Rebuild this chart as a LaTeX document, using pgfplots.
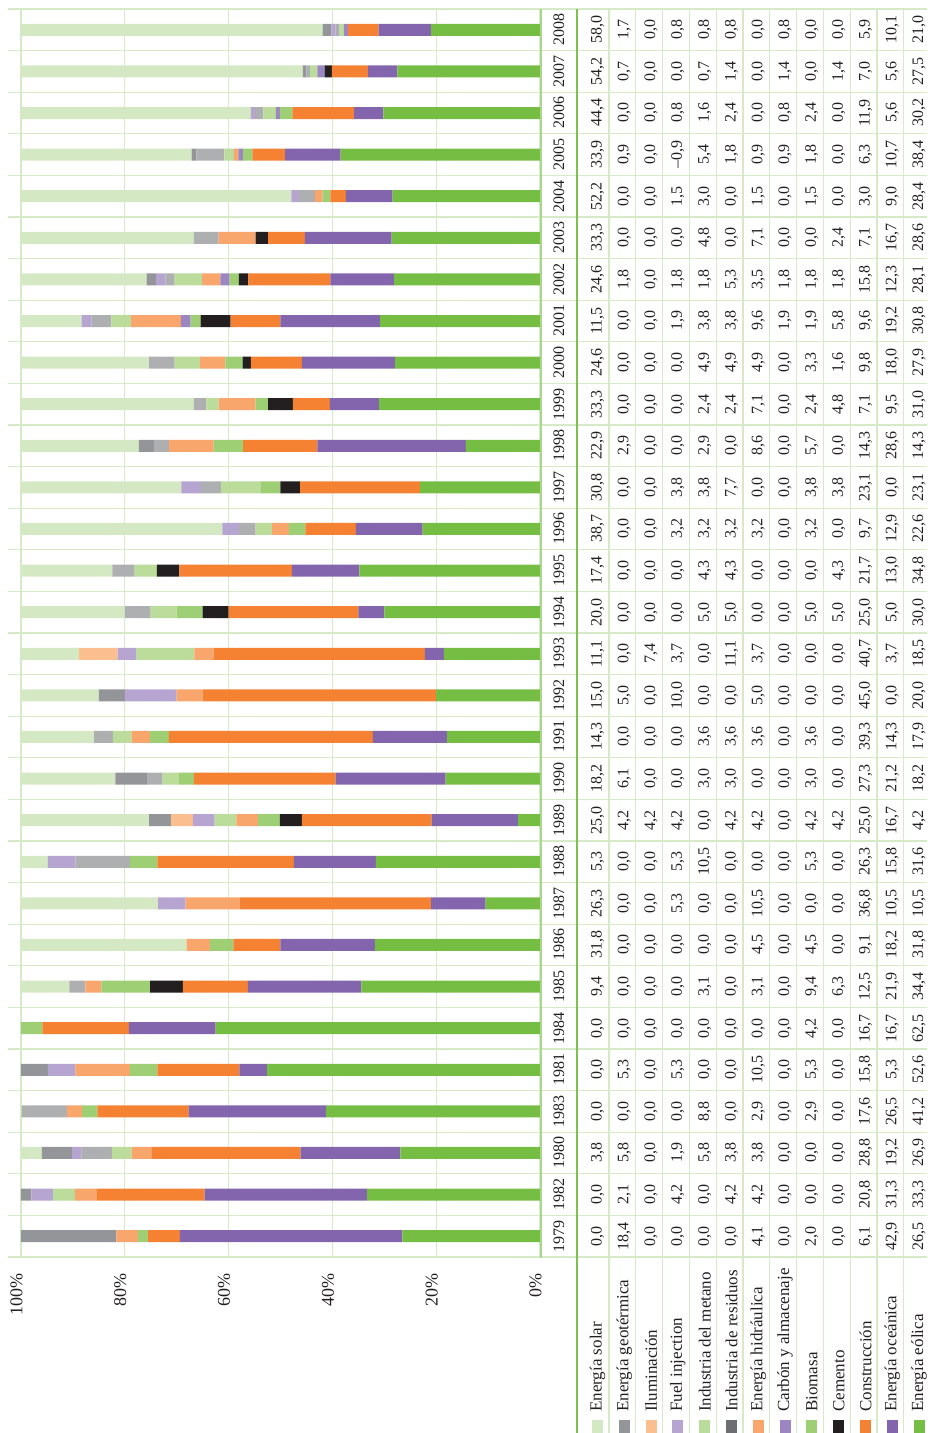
\documentclass[border=0pt]{standalone}
\usepackage{pgfplots}
\pgfplotsset{compat=1.18}
\usepackage{pgfplotstable}
\usepackage{fontspec}
\setmainfont{Liberation Serif}

% bar colours
\definecolor{cSolar}{HTML}{D5E8C4}
\definecolor{cGeot}{HTML}{939598}
\definecolor{cIlum}{HTML}{FBBE8E}
\definecolor{cFuel}{HTML}{B6A5D1}
\definecolor{cMeta}{HTML}{ADAFB1}
\definecolor{cResi}{HTML}{BCDC9C}
\definecolor{cHidr}{HTML}{F9A66C}
\definecolor{cCarb}{HTML}{9C86C1}
\definecolor{cBio}{HTML}{9FCF75}
\definecolor{cCem}{HTML}{231F20}
\definecolor{cCons}{HTML}{F58233}
\definecolor{cOcea}{HTML}{8365AD}
\definecolor{cEol}{HTML}{76BD43}
% legend colours
\definecolor{lMeta}{HTML}{BADC9B}
\definecolor{lResi}{HTML}{6D6E71}
% lines
\definecolor{gridc}{HTML}{D6EAC8}
\definecolor{lineZero}{HTML}{A8D68A}
\definecolor{lineTab}{HTML}{7CC24F}
\definecolor{txt}{HTML}{231F20}

\pgfplotstableread{
idx year solar geot ilum fuel meta resi hidr carb bio cem cons ocea eol
0 1979 0.0 18.4 0.0 0.0 0.0 0.0 4.1 0.0 2.0 0.0 6.1 42.9 26.5
1 1982 0.0 2.1 0.0 4.2 0.0 4.2 4.2 0.0 0.0 0.0 20.8 31.3 33.3
2 1980 3.8 5.8 0.0 1.9 5.8 3.8 3.8 0.0 0.0 0.0 28.8 19.2 26.9
3 1983 0.0 0.0 0.0 0.0 8.8 0.0 2.9 0.0 2.9 0.0 17.6 26.5 41.2
4 1981 0.0 5.3 0.0 5.3 0.0 0.0 10.5 0.0 5.3 0.0 15.8 5.3 52.6
5 1984 0.0 0.0 0.0 0.0 0.0 0.0 0.0 0.0 4.2 0.0 16.7 16.7 62.5
6 1985 9.4 0.0 0.0 0.0 3.1 0.0 3.1 0.0 9.4 6.3 12.5 21.9 34.4
7 1986 31.8 0.0 0.0 0.0 0.0 0.0 4.5 0.0 4.5 0.0 9.1 18.2 31.8
8 1987 26.3 0.0 0.0 5.3 0.0 0.0 10.5 0.0 0.0 0.0 36.8 10.5 10.5
9 1988 5.3 0.0 0.0 5.3 10.5 0.0 0.0 0.0 5.3 0.0 26.3 15.8 31.6
10 1989 25.0 4.2 4.2 4.2 0.0 4.2 4.2 0.0 4.2 4.2 25.0 16.7 4.2
11 1990 18.2 6.1 0.0 0.0 3.0 3.0 0.0 0.0 3.0 0.0 27.3 21.2 18.2
12 1991 14.3 0.0 0.0 0.0 3.6 3.6 3.6 0.0 3.6 0.0 39.3 14.3 17.9
13 1992 15.0 5.0 0.0 10.0 0.0 0.0 5.0 0.0 0.0 0.0 45.0 0.0 20.0
14 1993 11.1 0.0 7.4 3.7 0.0 11.1 3.7 0.0 0.0 0.0 40.7 3.7 18.5
15 1994 20.0 0.0 0.0 0.0 5.0 5.0 0.0 0.0 5.0 5.0 25.0 5.0 30.0
16 1995 17.4 0.0 0.0 0.0 4.3 4.3 0.0 0.0 0.0 4.3 21.7 13.0 34.8
17 1996 38.7 0.0 0.0 3.2 3.2 3.2 3.2 0.0 3.2 0.0 9.7 12.9 22.6
18 1997 30.8 0.0 0.0 3.8 3.8 7.7 0.0 0.0 3.8 3.8 23.1 0.0 23.1
19 1998 22.9 2.9 0.0 0.0 2.9 0.0 8.6 0.0 5.7 0.0 14.3 28.6 14.3
20 1999 33.3 0.0 0.0 0.0 2.4 2.4 7.1 0.0 2.4 4.8 7.1 9.5 31.0
21 2000 24.6 0.0 0.0 0.0 4.9 4.9 4.9 0.0 3.3 1.6 9.8 18.0 27.9
22 2001 11.5 0.0 0.0 1.9 3.8 3.8 9.6 1.9 1.9 5.8 9.6 19.2 30.8
23 2002 24.6 1.8 0.0 1.8 1.8 5.3 3.5 1.8 1.8 1.8 15.8 12.3 28.1
24 2003 33.3 0.0 0.0 0.0 4.8 0.0 7.1 0.0 0.0 2.4 7.1 16.7 28.6
25 2004 52.2 0.0 0.0 1.5 3.0 0.0 1.5 0.0 1.5 0.0 3.0 9.0 28.4
26 2005 33.9 0.9 0.0 -0.9 5.4 1.8 0.9 0.9 1.8 0.0 6.3 10.7 38.4
27 2006 44.4 0.0 0.0 0.8 1.6 2.4 0.0 0.8 2.4 0.0 11.9 5.6 30.2
28 2007 54.2 0.7 0.0 0.0 0.7 1.4 0.0 1.4 0.0 1.4 7.0 5.6 27.5
29 2008 58.0 1.7 0.0 0.8 0.8 0.8 0.0 0.8 0.0 0.0 5.9 10.1 21.0
}\datatable

\newcommand{\tabfont}{\fontsize{16}{19}\selectfont}
\newcommand{\labfont}{\fontsize{17}{20}\selectfont}
\newcommand{\pctfont}{\fontsize{18}{21}\selectfont}

\begin{document}
\begin{tikzpicture}
\path[use as bounding box] (0pt,0pt) rectangle (927pt,1433pt);
\begin{scope}[x=1pt,y=-1pt,shift={(0pt,1433pt)}]
% band lines
\foreach \k in {0,...,29} {
  \draw[gridc, line width=1.2pt] (8,{9+41.6*\k}) -- (927,{9+41.6*\k});
}
% table column lines
\foreach \k in {0,...,11} {
  \draw[gridc, line width=1.2pt] ({609+26.8*\k},9) -- ({609+26.8*\k},1433);
}
\end{scope}
\begin{axis}[
  at={(280.5pt,800pt)}, anchor=center,
  scale only axis, width=519pt, height=1248pt,
  xbar stacked, bar width=12pt,
  xmin=0, xmax=100, x dir=reverse,
  ymin=-0.5, ymax=29.5,
  enlargelimits=false,
  axis line style={draw=none},
  major tick length=0pt,
  ytick=\empty,
  xtick={0,20,40,60,80,100},
  xticklabels={0\%,20\%,40\%,60\%,80\%,100\%},
  xmajorgrids,
  grid style={gridc, line width=1.2pt},
  xticklabel style={xshift=-4.5pt, yshift=-16pt, rotate=90, anchor=east, inner sep=0pt, font=\pctfont, text=txt},
]
\addplot[fill=cEol, draw=none] table[x=eol, y=idx]{\datatable};
\addplot[fill=cOcea, draw=none] table[x=ocea, y=idx]{\datatable};
\addplot[fill=cCons, draw=none] table[x=cons, y=idx]{\datatable};
\addplot[fill=cCem, draw=none] table[x=cem, y=idx]{\datatable};
\addplot[fill=cBio, draw=none] table[x=bio, y=idx]{\datatable};
\addplot[fill=cCarb, draw=none] table[x=carb, y=idx]{\datatable};
\addplot[fill=cHidr, draw=none] table[x=hidr, y=idx]{\datatable};
\addplot[fill=cResi, draw=none] table[x=resi, y=idx]{\datatable};
\addplot[fill=cMeta, draw=none] table[x=meta, y=idx]{\datatable};
\addplot[fill=cFuel, draw=none, x filter/.expression={x<0 ? 0 : x}] table[x=fuel, y=idx]{\datatable};
\addplot[fill=cIlum, draw=none] table[x=ilum, y=idx]{\datatable};
\addplot[fill=cGeot, draw=none] table[x=geot, y=idx]{\datatable};
\addplot[fill=cSolar, draw=none] table[x=solar, y=idx]{\datatable};
\end{axis}
\begin{scope}[x=1pt,y=-1pt,shift={(0pt,1433pt)}]
% frame lines
\draw[gridc, line width=2pt] (8,1257) -- (927,1257);
\draw[lineZero, line width=2pt] (540.5,9) -- (540.5,1258);
\draw[lineTab, line width=2.5pt] (577,9) -- (577,1433);
% table values
\foreach \r in {0,...,29} {
  \pgfmathsetmacro\yc{1257-41.6*(\r+0.5)}
  \pgfplotstablegetelem{\r}{year}\of\datatable
  \node[rotate=90, font=\tabfont, inner sep=0pt, text=txt] at (559,\yc) {\pgfplotsretval};
  \foreach \c [count=\j from 0] in {solar,geot,ilum,fuel,meta,resi,hidr,carb,bio,cem,cons,ocea,eol} {
    \pgfplotstablegetelem{\r}{\c}\of\datatable
    \pgfmathsetmacro\xc{597.5+26.8*\j}
    \pgfmathsetmacro\v{\pgfplotsretval}
    \ifdim\v pt<0pt \def\sgn{\textendash}\pgfmathsetmacro\v{abs(\v)}\else\def\sgn{}\fi
    \node[rotate=90, font=\tabfont, inner sep=0pt, text=txt] at (\xc,\yc)
      {\sgn\pgfmathprintnumber[fixed,fixed zerofill,precision=1,use comma,assume math mode=true]{\v}};
  }
}
% row labels
\foreach \lab [count=\j from 0] in {Energía solar,Energía geotérmica,Iluminación,Fuel injection,Industria del metano,Industria de residuos,Energía hidráulica,Carbón y almacenaje,Biomasa,Cemento,Construcción,Energía oceánica,Energía eólica} {
  \node[rotate=90, anchor=west, inner sep=0pt, font=\labfont, text=txt] at ({597.5+26.8*\j},1412) {\lab};
}
% legend squares
\foreach \col [count=\j from 0] in {cSolar,cGeot,cIlum,cFuel,lMeta,lResi,cHidr,cCarb,cBio,cCem,cCons,cOcea,cEol} {
  \fill[\col] ({597.5+26.8*\j-5.5},1420) rectangle ({597.5+26.8*\j+5.5},1433);
}
\end{scope}
\end{tikzpicture}
\end{document}
